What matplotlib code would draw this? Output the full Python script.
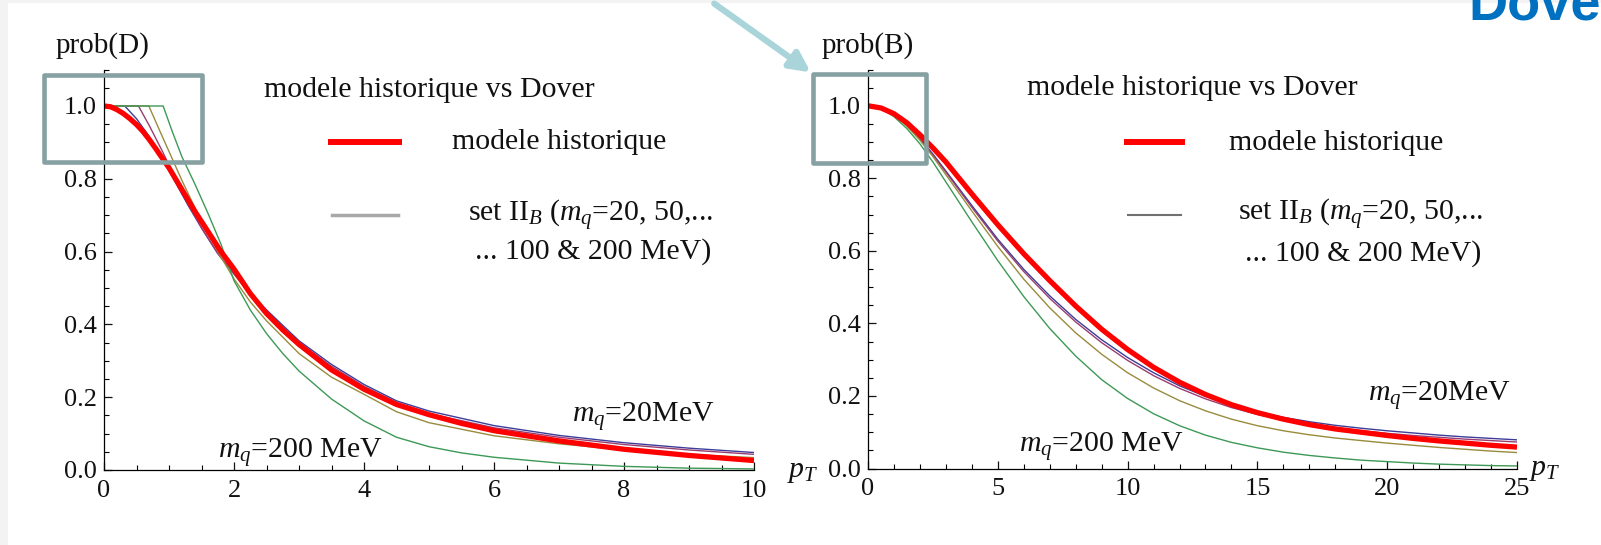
import matplotlib
matplotlib.use("Agg")
import matplotlib.pyplot as plt
from matplotlib.patches import FancyArrowPatch, Rectangle
from matplotlib.ticker import MultipleLocator

plt.rcParams['font.family'] = ['Liberation Serif', 'DejaVu Serif']
plt.rcParams['mathtext.fontset'] = 'custom'
plt.rcParams['mathtext.rm'] = 'Liberation Serif'
plt.rcParams['mathtext.it'] = 'Liberation Serif:italic'

# ---- panel gauche : prob(D) ----
d_hist_x = [0, 0.1, 0.2, 0.3, 0.4, 0.5, 0.6, 0.7, 0.8, 0.9, 1.0, 1.2, 1.4, 1.6, 1.8, 2.0,
            2.25, 2.5, 2.75, 3.0, 3.5, 4.0, 4.5, 5.0, 5.5, 6.0, 7.0, 8.0, 9.0, 10.0]
d_hist_y = [1.0, 0.998, 0.99, 0.979, 0.965, 0.949, 0.93, 0.907, 0.882, 0.856, 0.83, 0.77,
            0.71, 0.655, 0.60, 0.552, 0.485, 0.43, 0.385, 0.345, 0.275, 0.222, 0.18, 0.152,
            0.128, 0.108, 0.080, 0.057, 0.040, 0.026]

d_20_x = [0, 0.32, 0.5, 0.7, 0.9, 1.1, 1.3, 1.5, 1.75, 2.0, 2.25, 2.5, 3.0, 3.5, 4.0, 4.5,
          5.0, 6.0, 7.0, 8.0, 9.0, 10.0]
d_20_y = [1.0, 1.0, 0.965, 0.915, 0.855, 0.79, 0.725, 0.665, 0.595, 0.54, 0.485, 0.44, 0.355,
          0.29, 0.235, 0.19, 0.162, 0.122, 0.095, 0.075, 0.060, 0.048]

d_50_x = [0, 0.53, 0.7, 0.9, 1.1, 1.3, 1.5, 1.75, 2.0, 2.25, 2.5, 3.0, 3.5, 4.0, 4.5, 5.0,
          6.0, 7.0, 8.0, 9.0, 10.0]
d_50_y = [1.0, 1.0, 0.945, 0.875, 0.80, 0.73, 0.665, 0.595, 0.538, 0.482, 0.435, 0.35, 0.285,
          0.23, 0.186, 0.155, 0.116, 0.09, 0.07, 0.055, 0.043]

d_100_x = [0, 0.69, 0.85, 1.0, 1.2, 1.4, 1.6, 1.8, 2.0, 2.25, 2.5, 3.0, 3.5, 4.0, 4.5, 5.0,
           6.0, 7.0, 8.0, 9.0, 10.0]
d_100_y = [1.0, 1.0, 0.935, 0.875, 0.795, 0.72, 0.65, 0.585, 0.525, 0.462, 0.41, 0.32, 0.255,
           0.208, 0.16, 0.13, 0.094, 0.072, 0.055, 0.043, 0.034]

d_200_x = [0, 0.91, 1.05, 1.2, 1.4, 1.6, 1.8, 2.0, 2.25, 2.5, 2.75, 3.0, 3.5, 4.0, 4.5, 5.0,
           5.5, 6.0, 7.0, 8.0, 9.0, 10.0]
d_200_y = [1.0, 1.0, 0.93, 0.86, 0.785, 0.705, 0.62, 0.52, 0.44, 0.375, 0.32, 0.272, 0.195,
           0.135, 0.09, 0.064, 0.047, 0.035, 0.019, 0.010, 0.005, 0.003]

# ---- panel droit : prob(B) ----
b_x = [0, 0.5, 1, 1.5, 2, 2.5, 3, 4, 5, 6, 7, 8, 9, 10, 11, 12, 13, 14, 15, 16, 17, 18,
       19, 20, 21, 22, 23, 24, 25]
b_hist_y = [1.0, 0.994, 0.978, 0.953, 0.92, 0.884, 0.845, 0.757, 0.672, 0.592, 0.518, 0.448,
            0.384, 0.328, 0.279, 0.238, 0.204, 0.176, 0.154, 0.136, 0.121, 0.109, 0.1, 0.091,
            0.083, 0.076, 0.07, 0.064, 0.059]
b_20_y = [1.0, 0.994, 0.976, 0.947, 0.91, 0.867, 0.82, 0.725, 0.632, 0.549, 0.476, 0.411,
          0.355, 0.306, 0.264, 0.228, 0.199, 0.175, 0.156, 0.141, 0.129, 0.119, 0.111,
          0.104, 0.098, 0.092, 0.087, 0.083, 0.079]
b_50_y = [1.0, 0.994, 0.976, 0.946, 0.908, 0.864, 0.817, 0.72, 0.627, 0.543, 0.469, 0.404,
          0.347, 0.298, 0.256, 0.221, 0.192, 0.168, 0.149, 0.134, 0.122, 0.112, 0.104,
          0.097, 0.091, 0.086, 0.081, 0.077, 0.073]
b_100_y = [1.0, 0.994, 0.975, 0.944, 0.905, 0.86, 0.81, 0.71, 0.612, 0.522, 0.443, 0.374,
           0.315, 0.264, 0.222, 0.187, 0.159, 0.136, 0.118, 0.104, 0.093, 0.084, 0.077,
           0.07, 0.064, 0.058, 0.053, 0.048, 0.044]
b_200_y = [1.0, 0.993, 0.97, 0.937, 0.895, 0.845, 0.79, 0.68, 0.573, 0.474, 0.386, 0.31,
           0.245, 0.193, 0.151, 0.118, 0.092, 0.072, 0.057, 0.045, 0.036, 0.029, 0.023,
           0.019, 0.015, 0.012, 0.01, 0.008, 0.007]

couleurs = {'20': '#3d3d99', '50': '#993d71', '100': '#998b3d', '200': '#3d9956'}
txt_col = '#111111'

fig = plt.figure(figsize=(16.01, 5.45), dpi=100)
fig.patch.set_facecolor('white')

# bandes grises du bord de la capture
fig.add_artist(Rectangle((0, 0), 8 / 1601, 1, transform=fig.transFigure,
                         facecolor='#f3f3f3', edgecolor='none'))
fig.add_artist(Rectangle((0, 1 - 3 / 545), 1, 3 / 545, transform=fig.transFigure,
                         facecolor='#f3f3f3', edgecolor='none'))

ax1 = fig.add_axes([104 / 1601, 75 / 545, 650 / 1601, 400.4 / 545])
ax2 = fig.add_axes([868 / 1601, 76.5 / 545, 649 / 1601, 399 / 545])


def style_axe(ax, xmax, xmaj, xmin):
    ax.set_xlim(0, xmax)
    ax.set_ylim(0, 1.1)
    for s in ['top', 'right']:
        ax.spines[s].set_visible(False)
    for s in ['left', 'bottom']:
        ax.spines[s].set_linewidth(0.9)
    ax.spines['bottom'].set_bounds(0, xmax)
    ax.xaxis.set_major_locator(MultipleLocator(xmaj))
    ax.xaxis.set_minor_locator(MultipleLocator(xmin))
    ax.yaxis.set_minor_locator(MultipleLocator(0.05))
    ax.set_yticks([0, 0.2, 0.4, 0.6, 0.8, 1.0])
    ax.set_yticklabels(['0.0', '0.2', '0.4', '0.6', '0.8', '1.0'])
    ax.tick_params(which='major', direction='in', length=6, width=0.9,
                   labelsize=19, colors=txt_col)
    ax.tick_params(which='minor', direction='in', length=3.5, width=0.8)
    ax.tick_params(axis='x', pad=7)
    ax.tick_params(axis='y', pad=5)
    ax.patch.set_alpha(0)


style_axe(ax1, 10, 2, 0.5)
style_axe(ax2, 25, 5, 1)
ax1.set_xticks([0, 2, 4, 6, 8, 10])
ax2.set_xticks([0, 5, 10, 15, 20, 25])

# courbes panel gauche
ax1.plot(d_20_x, d_20_y, color=couleurs['20'], lw=1.0)
ax1.plot(d_50_x, d_50_y, color=couleurs['50'], lw=1.0)
ax1.plot(d_100_x, d_100_y, color=couleurs['100'], lw=1.0)
ax1.plot(d_200_x, d_200_y, color=couleurs['200'], lw=1.0)
ax1.plot(d_hist_x, d_hist_y, color='red', lw=3.8, solid_capstyle='butt')

# courbes panel droit
ax2.plot(b_x, b_20_y, color=couleurs['20'], lw=1.0)
ax2.plot(b_x, b_50_y, color=couleurs['50'], lw=1.0)
ax2.plot(b_x, b_100_y, color=couleurs['100'], lw=1.0)
ax2.plot(b_x, b_200_y, color=couleurs['200'], lw=1.0)
ax2.plot(b_x, b_hist_y, color='red', lw=3.8, solid_capstyle='butt')

fs = 21.5
# textes panel gauche
ax1.text(-0.74, 1.165, 'prob(D)', fontsize=21, ha='left', va='center', color=txt_col)
ax1.text(2.46, 1.044, 'modele historique vs Dover', fontsize=fs, ha='left', va='center', color=txt_col)
ax1.plot([3.49, 4.54], [0.9, 0.9], color='red', lw=4.3, clip_on=False)
ax1.text(5.36, 0.9, 'modele historique', fontsize=fs, ha='left', va='center', color=txt_col)
ax1.plot([3.51, 4.52], [0.70, 0.70], color='#a8a8a8', lw=2.5, clip_on=False)
ax1.text(5.6, 0.699, r'set II$_B$ ($m_q$=20, 50,...', fontsize=fs, ha='left', va='center', color=txt_col)
ax1.text(5.7, 0.599, '... 100 & 200 MeV)', fontsize=fs, ha='left', va='center', color=txt_col)
ax1.text(7.2, 0.146, r'$m_q$=20MeV', fontsize=fs, ha='left', va='center', color=txt_col)
ax1.text(1.75, 0.049, r'$m_q$=200 MeV', fontsize=fs, ha='left', va='center', color=txt_col)
ax1.text(10.5, -0.005, r'$p_T$', fontsize=fs, ha='left', va='center', color=txt_col)

# textes panel droit
ax2.text(-1.79, 1.165, 'prob(B)', fontsize=21, ha='left', va='center', color=txt_col)
ax2.text(6.12, 1.05, 'modele historique vs Dover', fontsize=fs, ha='left', va='center', color=txt_col)
ax2.plot([9.98, 12.1], [0.9, 0.9], color='red', lw=4.3, clip_on=False)
ax2.text(13.9, 0.897, 'modele historique', fontsize=fs, ha='left', va='center', color=txt_col)
ax2.plot([10.0, 12.04], [0.699, 0.699], color='#707070', lw=1.5, clip_on=False)
ax2.text(14.25, 0.701, r'set II$_B$ ($m_q$=20, 50,...', fontsize=fs, ha='left', va='center', color=txt_col)
ax2.text(14.52, 0.594, '... 100 & 200 MeV)', fontsize=fs, ha='left', va='center', color=txt_col)
ax2.text(19.26, 0.2, r'$m_q$=20MeV', fontsize=fs, ha='left', va='center', color=txt_col)
ax2.text(5.8, 0.062, r'$m_q$=200 MeV', fontsize=fs, ha='left', va='center', color=txt_col)
ax2.text(25.45, -0.005, r'$p_T$', fontsize=fs, ha='left', va='center', color=txt_col)

# cadres et fleche ajoutes sur la diapo
cadre = '#87a1a3'
fig.add_artist(Rectangle((43.5 / 1601, 1 - 162.3 / 545), 158.5 / 1601, 87.6 / 545,
                         transform=fig.transFigure, fill=False, edgecolor=cadre,
                         lw=3.3, joinstyle='round'))
fig.add_artist(Rectangle((812.5 / 1601, 1 - 163 / 545), 113.5 / 1601, 89.5 / 545,
                         transform=fig.transFigure, fill=False, edgecolor=cadre,
                         lw=3.3, joinstyle='round'))
fig.add_artist(FancyArrowPatch((712 / 1601, 1 - 2 / 545), (813 / 1601, 1 - 74 / 545),
                               transform=fig.transFigure, arrowstyle='-|>',
                               mutation_scale=30, color='#a9d4da', lw=4.5))

fig.text(1468 / 1601, 1 - 19 / 545, 'Dover', color='#0070c0', fontsize=39,
         fontweight='bold', family='Liberation Sans', ha='left', va='baseline')

fig.savefig('out.png', dpi=100)
